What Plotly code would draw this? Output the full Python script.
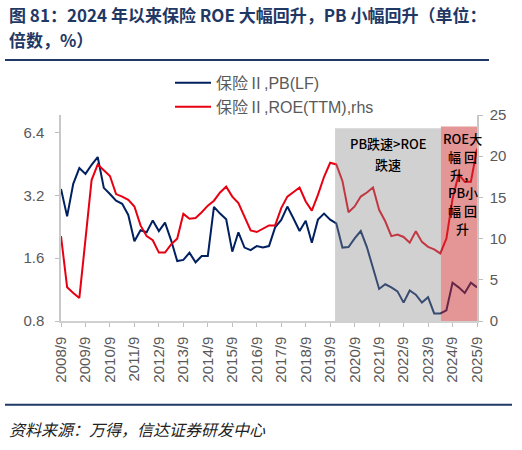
import math
import plotly.graph_objects as go

# Quarterly categories 2008/9 .. 2025/9
quarters = [f"{y}/{m}" for y in range(2008, 2026) for m in (3, 6, 9, 12)]
quarters = quarters[quarters.index("2008/9"):quarters.index("2025/9") + 1]
year_ticks = [q for q in quarters if q.endswith("/9")]

pb_values = [3.44, 2.54, 3.64, 4.33, 4.06, 4.49, 4.89, 3.48, 3.25, 3.02,
             2.92, 2.58, 1.93, 2.18, 2.13, 2.43, 2.16, 2.37, 1.95, 1.55,
             1.57, 1.70, 1.53, 1.64, 1.64, 2.82, 2.62, 2.46, 1.72, 2.13,
             1.80, 1.75, 1.83, 1.80, 1.83, 2.25, 2.44, 2.83, 2.48, 2.16,
             2.42, 1.90, 2.45, 2.62, 2.45, 2.35, 1.80, 1.81, 1.99, 2.16,
             1.81, 1.45, 1.14, 1.20, 1.16, 1.11, 0.98, 1.12, 1.07, 0.98,
             1.04, 0.87, 0.87, 0.90, 1.22, 1.16, 1.09, 1.22, 1.16]

roe_values = [10.3, 4.1, 3.4, 2.8, 9.9, 17.1, 19.0, 18.3, 17.6, 15.4,
              15.1, 14.7, 13.9, 11.6, 10.3, 9.8, 8.3, 8.3, 9.3, 10.0,
              13.0, 12.4, 12.5, 13.2, 14.0, 14.6, 15.6, 16.3, 15.1, 14.3,
              12.6, 11.0, 10.8, 11.2, 11.6, 11.6, 13.7, 15.1, 15.6, 16.2,
              14.5, 13.4, 15.3, 17.5, 19.2, 19.0, 17.0, 13.2, 13.9, 15.1,
              15.6, 16.2, 13.5, 12.1, 10.3, 10.5, 10.2, 9.5, 10.9, 9.6,
              9.0, 8.7, 8.2, 10.0, 14.8, 17.8, 16.9, 16.9, 20.9]

left_ticks = [0.8, 1.6, 3.2, 6.4]
right_ticks = [0, 5, 10, 15, 20, 25]

series_names = ["保险Ⅱ,PB(LF)", "保险Ⅱ,ROE(TTM),rhs"]
title_lines = ["图 81：2024 年以来保险 ROE 大幅回升，PB 小幅回升（单位：", "倍数，%）"]
gray_text = ["PB跌速>ROE", "跌速"]
red_text = ["ROE大", "幅 回", "升，", "PB小", "幅 回", "升"]
source_text = "资料来源：万得，信达证券研发中心"

FONT = "Liberation Sans, Arial, Noto Sans CJK SC, sans-serif"
CJK = "Noto Sans CJK SC, sans-serif"
GRAY = "#595959"
NAVY = "#1f3864"

# pixel helpers for layout placement (plot area 61..477 x, 115..320.7 y)
L, R, T, B = 61, 477, 115, 320.7
def px(x):
    return (x - L) / (R - L)
def py(y):
    return (B - y) / (B - T)

fig = go.Figure()
fig.add_trace(go.Scatter(x=quarters, y=pb_values, name=series_names[0],
                         mode="lines", line=dict(color="#002060", width=2),
                         yaxis="y"))
fig.add_trace(go.Scatter(x=quarters, y=roe_values, name=series_names[1],
                         mode="lines", line=dict(color="#e60012", width=2),
                         yaxis="y2"))

shapes = [
    dict(type="rect", xref="x", yref="y2", x0=44.8, x1=62.1, y0=0, y1=23.4,
         fillcolor="rgb(140,140,140)", opacity=0.4, line=dict(width=0), layer="above"),
    dict(type="rect", xref="x", yref="y2", x0=62.1, x1=68, y0=0, y1=23.6,
         fillcolor="rgb(201,45,45)", opacity=0.5, line=dict(width=0), layer="above"),
    dict(type="line", xref="paper", yref="paper", x0=px(5), x1=px(489), y0=py(60), y1=py(60),
         line=dict(color=NAVY, width=2)),
    dict(type="line", xref="paper", yref="paper", x0=px(5), x1=px(512), y0=py(404.3), y1=py(404.3),
         line=dict(color=NAVY, width=2)),
]

annotations = []
for i, t in enumerate(title_lines):
    annotations.append(dict(text=t, xref="paper", yref="paper", x=px(7), y=py(15 + 25 * i),
                            xanchor="left", yanchor="middle", showarrow=False,
                            font=dict(family=CJK, size=17, color=NAVY, weight="bold")))
annotations.append(dict(text=source_text, xref="paper", yref="paper", x=px(7), y=py(429),
                        xanchor="left", yanchor="middle", showarrow=False,
                        font=dict(family=CJK, size=16, color="#222222", style="italic")))
for i, t in enumerate(gray_text):
    annotations.append(dict(text=t, xref="paper", yref="paper", x=px(388), y=py(143.5 + 20.5 * i),
                            xanchor="center", yanchor="middle", showarrow=False,
                            font=dict(family=CJK, size=13, color="#000000", weight=500)))
for i, t in enumerate(red_text):
    annotations.append(dict(text=t, xref="paper", yref="paper", x=px(462.5), y=py(138.3 + 18 * i),
                            xanchor="center", yanchor="middle", showarrow=False,
                            font=dict(family=CJK, size=13, color="#000000", weight=500)))

fig.update_layout(
    width=522, height=450,
    margin=dict(l=L, r=522 - R, t=T, b=450 - B),
    paper_bgcolor="white", plot_bgcolor="white",
    font=dict(family=FONT, color=GRAY),
    showlegend=True,
    legend=dict(x=px(170), y=py(66), xanchor="left", yanchor="top",
                bgcolor="rgba(0,0,0,0)", font=dict(family=FONT, size=16, color=GRAY),
                tracegroupgap=0, itemwidth=36),
    xaxis=dict(type="category", range=[0, len(quarters) - 1],
               tickmode="array", tickvals=year_ticks, ticktext=year_ticks,
               tickangle=-90, ticks="outside", ticklen=4, tickcolor="#bfbfbf",
               showline=True, linecolor="#d0d0d0", linewidth=1.5, showgrid=False,
               tickfont=dict(family=FONT, size=15, color=GRAY), ticklabelstandoff=4),
    yaxis=dict(type="log", range=[math.log10(0.8), math.log10(7.78)],
               tickvals=left_ticks, ticktext=[f"{v:.1f}" for v in left_ticks],
               ticks="outside", ticklen=4, tickcolor="#bfbfbf",
               showline=True, linecolor="#c8c8c8", linewidth=1.5, showgrid=False, zeroline=False,
               tickfont=dict(family=FONT, size=15, color=GRAY), ticklabelstandoff=8),
    yaxis2=dict(overlaying="y", side="right", range=[0, 25], tickvals=right_ticks,
                ticks="outside", ticklen=4, tickcolor="#bfbfbf",
                showline=True, linecolor="#c8c8c8", linewidth=1.5, showgrid=False, zeroline=False,
                tickfont=dict(family=FONT, size=15, color=GRAY), ticklabelstandoff=4),
    shapes=shapes, annotations=annotations,
)

fig.write_html("out.html", config={"displayModeBar": False},
               post_script="document.body.style.margin='0';")
